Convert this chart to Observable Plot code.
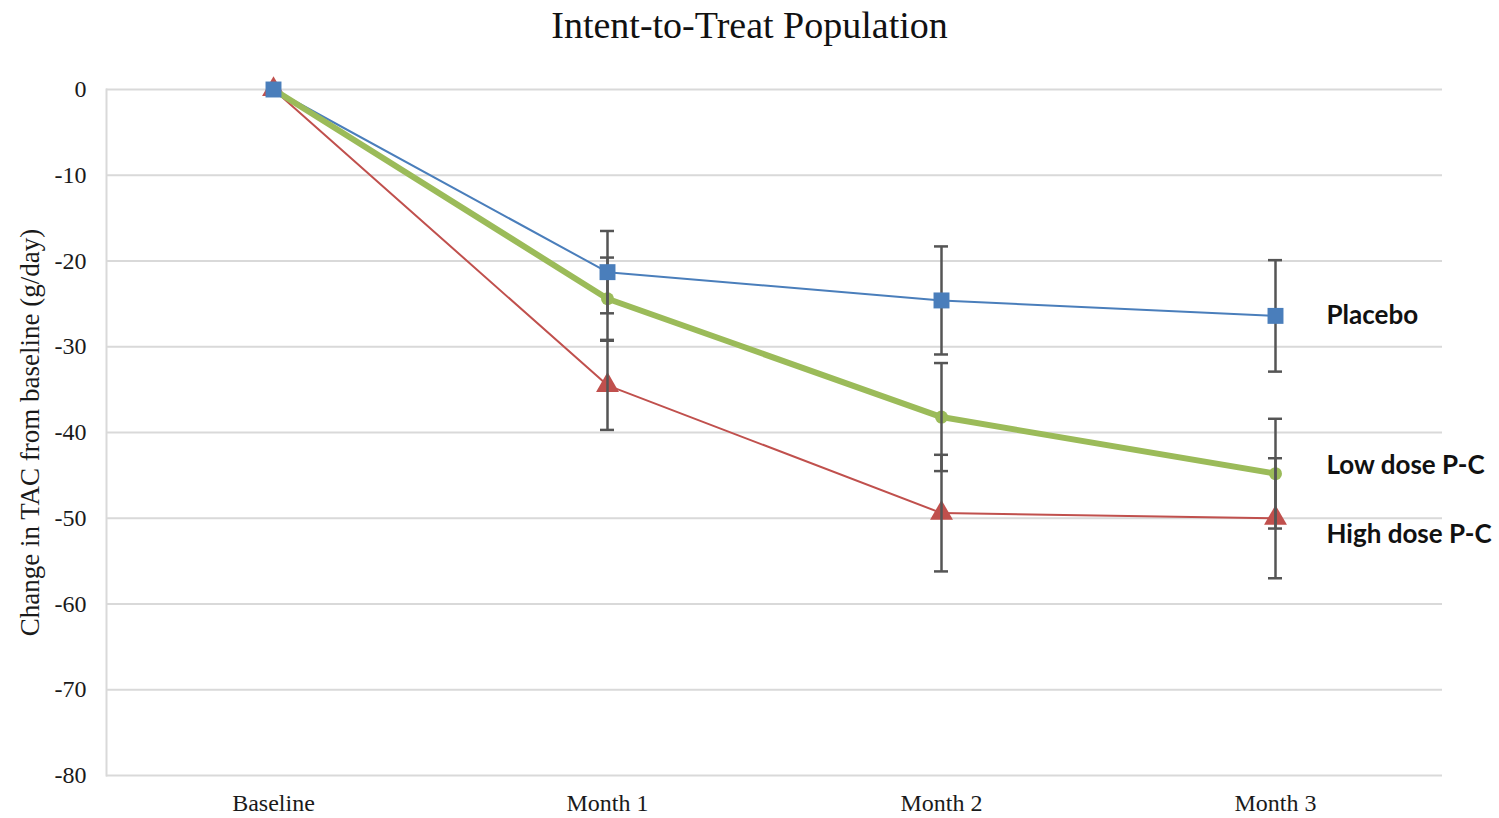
<!DOCTYPE html>
<html>
<head>
<meta charset="utf-8">
<script src="https://cdn.jsdelivr.net/npm/d3@7"></script>
<script src="https://cdn.jsdelivr.net/npm/@observablehq/plot@0.6"></script>
<style>
  html, body { margin: 0; padding: 0; background: #fff; }
  #title { height: 58px; line-height: 50px; text-align: center; font-family: "Liberation Serif", "Times New Roman", serif; font-size: 38px; color: #111; }
  #chart svg { display: block; }
</style>
</head>
<body>
<div id="title">Intent-to-Treat  Population</div>
<div id="chart"></div>
<script>
const timepoints = ["Baseline", "Month 1", "Month 2", "Month 3"];
const seriesNames = ["Placebo", "Low dose P-C", "High dose P-C"];
const placeboMean = [0, -21.3, -24.6, -26.4];
const placeboErr  = [0, 4.8, 6.3, 6.5];
const lowMean     = [0, -24.4, -38.2, -44.8];
const lowErr      = [0, 4.8, 6.3, 6.4];
const highMean    = [0, -34.5, -49.4, -50.0];
const highErr     = [0, 5.2, 6.8, 7.0];
const labelY      = [-26.4, -43.9, -51.9];
const yTicks      = [0, -10, -20, -30, -40, -50, -60, -70, -80];

const colors = {"Placebo": "#4a7ebb", "Low dose P-C": "#9bbb59", "High dose P-C": "#c0504d"};
const means = [placeboMean, lowMean, highMean];
const errs = [placeboErr, lowErr, highErr];

const rows = [];
seriesNames.forEach((s, si) => {
  timepoints.forEach((t, ti) => {
    rows.push({series: s, time: t, mean: means[si][ti], err: errs[si][ti]});
  });
});
const bySeries = s => rows.filter(d => d.series === s);
const errRows = rows.filter(d => d.err > 0);
const labels = seriesNames.map((s, i) => ({series: s, time: "Month 3", y: labelY[i]}));

const serif = "'Liberation Serif', 'Times New Roman', serif";

const plot = Plot.plot({
  width: 1499,
  height: 760,
  marginTop: 31,
  marginBottom: 43,
  marginLeft: 106,
  marginRight: 57,
  style: {fontFamily: serif, background: "#fff", color: "#1a1a1a"},
  x: {type: "band", domain: timepoints, padding: 0, label: null},
  y: {domain: [-80, 0], label: null},
  marks: [
    Plot.gridY(yTicks, {stroke: "#d9d9d9", strokeOpacity: 1, strokeWidth: 2}),
    Plot.frame({anchor: "left", stroke: "#d9d9d9", strokeWidth: 2}),
    Plot.axisY(yTicks, {tickSize: 0, tickPadding: 20, fontSize: 24, tickFormat: d => d === 0 ? "0" : String(d)}),
    Plot.axisX({tickSize: 0, tickPadding: 18, fontSize: 24}),
    Plot.text(["Change in TAC from baseline (g/day)"], {frameAnchor: "left", textAnchor: "middle", dx: -76, rotate: -90, fontSize: 27, fill: "#1a1a1a"}),
    // lines
    Plot.line(bySeries("High dose P-C"), {x: "time", y: "mean", stroke: colors["High dose P-C"], strokeWidth: 2}),
    Plot.line(bySeries("Placebo"), {x: "time", y: "mean", stroke: colors["Placebo"], strokeWidth: 2}),
    Plot.dot(bySeries("High dose P-C"), {x: "time", y: "mean", symbol: "triangle", r: 8.5, fill: colors["High dose P-C"]}),
    Plot.line(bySeries("Low dose P-C"), {x: "time", y: "mean", stroke: colors["Low dose P-C"], strokeWidth: 6}),
    Plot.dot(bySeries("Low dose P-C"), {x: "time", y: "mean", symbol: "circle", r: 6.5, fill: colors["Low dose P-C"]}),
    // error bars
    Plot.ruleX(errRows, {x: "time", y1: d => d.mean - d.err, y2: d => d.mean + d.err, stroke: "#555", strokeWidth: 2.5}),
    Plot.tickY(errRows, {x: "time", y: d => d.mean - d.err, stroke: "#555", strokeWidth: 2.5, insetLeft: 160, insetRight: 160}),
    Plot.tickY(errRows, {x: "time", y: d => d.mean + d.err, stroke: "#555", strokeWidth: 2.5, insetLeft: 160, insetRight: 160}),
    Plot.dot(bySeries("Placebo"), {x: "time", y: "mean", symbol: "square", r: 9, fill: colors["Placebo"]}),
    // series labels
    Plot.text(labels, {x: "time", y: "y", text: "series", textAnchor: "start", dx: 51, fontSize: 26, fontWeight: "bold", fontFamily: "Lato, 'Noto Sans', sans-serif", fill: "#111", clip: false})
  ]
});
document.getElementById("chart").appendChild(plot);
</script>
</body>
</html>
